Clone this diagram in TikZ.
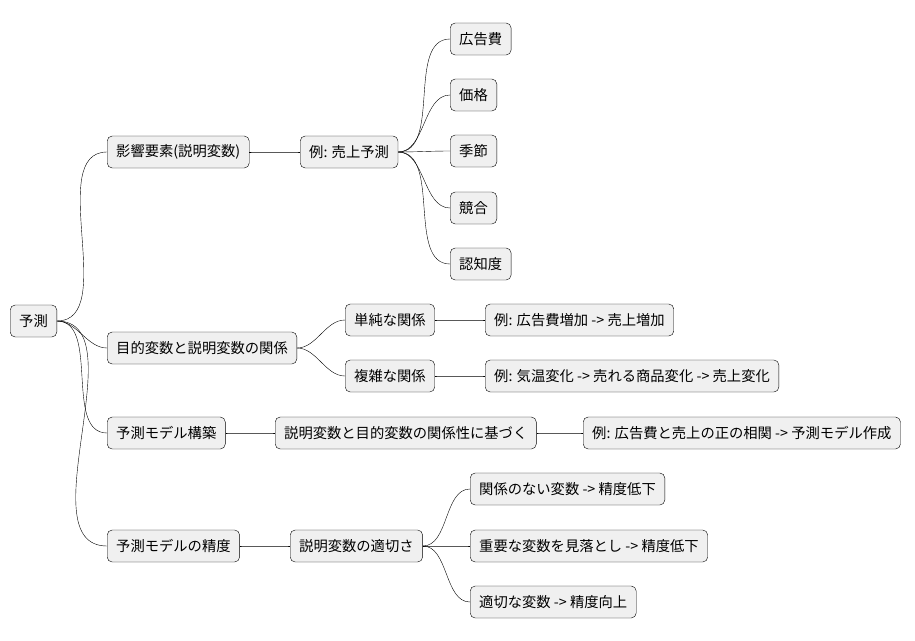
\documentclass[tikz,border=0pt]{standalone}
\usepackage{fontspec}
\setmainfont{Noto Sans CJK JP}
\begin{document}
\begin{tikzpicture}[x=1pt,y=-1pt,thin]
\tikzstyle{every node} = [draw, rounded corners=5pt, fill=black!6, anchor=west,
	minimum height=32pt, inner xsep=9pt, font=\fontsize{14.3}{14}\selectfont]
\tikzstyle{link} = [out=0, in=180, looseness=0.9]
\useasboundingbox (0,0) rectangle (915,640);

\node (root) at (10,321) {予測};

\node (infl) at (107,152) {影響要素(説明変数)};
\node (ex1) at (300,152) {例: 売上予測};
\node (ad) at (450,39) {広告費};
\node (price) at (450,95) {価格};
\node (season) at (450,151) {季節};
\node (rival) at (450,208) {競合};
\node (aware) at (450,264) {認知度};

\node (rel) at (107,348) {目的変数と説明変数の関係};
\node (simple) at (345,320) {単純な関係};
\node (complex) at (345,376) {複雑な関係};
\node (ex2) at (485,320) {例: 広告費増加 -> 売上増加};
\node (ex3) at (485,376) {例: 気温変化 -> 売れる商品変化 -> 売上変化};

\node (build) at (107,433) {予測モデル構築};
\node (basis) at (275,433) {説明変数と目的変数の関係性に基づく};
\node (ex4) at (583,433) {例: 広告費と売上の正の相関 -> 予測モデル作成};

\node (acc) at (107,546) {予測モデルの精度};
\node (fit) at (290,546) {説明変数の適切さ};
\node (none) at (470,489) {関係のない変数 -> 精度低下};
\node (miss) at (470,546) {重要な変数を見落とし -> 精度低下};
\node (good) at (470,602) {適切な変数 -> 精度向上};

\foreach \a/\b in {root/infl, root/rel, root/build, root/acc, infl/ex1,
	ex1/ad, ex1/price, ex1/season, ex1/rival, ex1/aware,
	rel/simple, rel/complex, simple/ex2, complex/ex3,
	build/basis, basis/ex4, acc/fit, fit/none, fit/miss, fit/good}
	\draw (\a.east) to[link] (\b.west);
\end{tikzpicture}
\end{document}
